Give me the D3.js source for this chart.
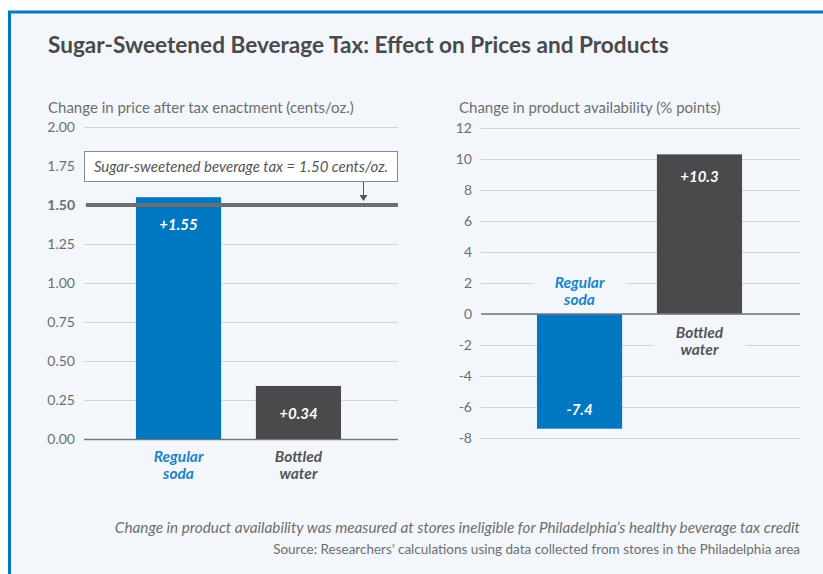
<!DOCTYPE html>
<html>
<head>
<meta charset="utf-8">
<script src="https://cdn.jsdelivr.net/npm/d3@7"></script>
<style>
  html, body { margin: 0; padding: 0; background: #fff; }
  svg { display: block; font-family: Lato, "Open Sans", sans-serif; }
</style>
</head>
<body>
<div id="chart"></div>
<script>
'use strict';

const categories = ["Regular soda", "Bottled water"];
const priceValues = [1.55, 0.34];
const priceLabels = ["+1.55", "+0.34"];
const priceTicks = [0, 0.25, 0.5, 0.75, 1.0, 1.25, 1.5, 1.75, 2.0];
const taxRate = 1.50;
const availValues = [-7.4, 10.3];
const availLabels = ["-7.4", "+10.3"];
const availTicks = [-8, -6, -4, -2, 0, 2, 4, 6, 8, 10, 12];
const barColors = ["#0077c1", "#4a4a4c"];
const labelColors = ["#1a84c7", "#555558"];

const width = 823, height = 574;
const grey = "#6d6e71";

const svg = d3.select("#chart").append("svg")
  .attr("width", width)
  .attr("height", height);

// panel
svg.append("rect").attr("x", 8).attr("y", 11).attr("width", width).attr("height", height)
  .attr("fill", "#f3f7fb");
svg.append("line").attr("x1", 8).attr("x2", width).attr("y1", 12).attr("y2", 12)
  .attr("stroke", "#0077c1").attr("stroke-width", 3);
svg.append("line").attr("x1", 9.5).attr("x2", 9.5).attr("y1", 11).attr("y2", height)
  .attr("stroke", "#0077c1").attr("stroke-width", 3);

svg.append("text")
  .attr("x", 48).attr("y", 53)
  .attr("font-size", 22.6).attr("font-weight", 700)
  .attr("fill", "#4a4a4c")
  .text("Sugar-Sweetened Beverage Tax: Effect on Prices and Products");

// two-line category label, one text per line
function catLabel(g, c, cx, y, color) {
  c.split(" ").forEach((w, k) => {
    g.append("text")
      .attr("x", cx).attr("y", y + k * 17)
      .attr("text-anchor", "middle").attr("font-size", 15.5).attr("font-weight", 700)
      .attr("font-style", "italic").attr("fill", color)
      .text(w);
  });
}

// ---- left chart
const x1 = d3.scaleBand().domain(categories).range([88, 389]).paddingInner(0.29).paddingOuter(0.4);
const y1 = d3.scaleLinear().domain([0, 2]).range([439, 127]);

const left = svg.append("g");
left.append("text").attr("x", 48).attr("y", 113).attr("font-size", 15).attr("fill", grey)
  .text("Change in price after tax enactment (cents/oz.)");

const yAxis1 = left.append("g")
  .attr("transform", "translate(84,0)")
  .call(d3.axisLeft(y1).tickValues(priceTicks).tickFormat(d3.format(".2f")).tickSize(-314).tickPadding(9));
yAxis1.select(".domain").remove();
yAxis1.selectAll(".tick line").attr("stroke", d => d === 0 ? "#77787b" : "#cfd3d8").attr("stroke-width", d => d === 0 ? 1.5 : 1);
yAxis1.selectAll(".tick text").attr("font-size", 14).attr("fill", grey).attr("font-family", "Lato, sans-serif")
  .attr("font-weight", d => d === taxRate ? 700 : 400);

// annotation box
left.append("rect").attr("x", 84.5).attr("y", 151.5).attr("width", 313).attr("height", 30)
  .attr("fill", "#fff").attr("stroke", "#8a8b8e");
left.append("text").attr("x", 241).attr("y", 172).attr("text-anchor", "middle")
  .attr("font-size", 15).attr("font-style", "italic").attr("fill", "#555558")
  .text("Sugar-sweetened beverage tax = 1.50 cents/oz.");

left.selectAll("rect.bar").data(priceValues).join("rect")
  .attr("class", "bar")
  .attr("x", (d, i) => x1(categories[i]))
  .attr("width", x1.bandwidth())
  .attr("y", d => y1(d))
  .attr("height", d => y1(0) - y1(d))
  .attr("fill", (d, i) => barColors[i]);

// tax line drawn over bars
left.append("line").attr("x1", 86).attr("x2", 398)
  .attr("y1", y1(taxRate)).attr("y2", y1(taxRate))
  .attr("stroke", grey).attr("stroke-width", 4);
left.append("line").attr("x1", 363.5).attr("x2", 363.5).attr("y1", 182).attr("y2", 196)
  .attr("stroke", "#555558").attr("stroke-width", 1);
left.append("path").attr("d", "M359.5,195 L367.5,195 L363.5,201 Z").attr("fill", "#555558");

left.selectAll("text.val").data(priceValues).join("text")
  .attr("class", "val")
  .attr("x", (d, i) => x1(categories[i]) + x1.bandwidth() / 2)
  .attr("y", d => y1(d) + 33)
  .attr("text-anchor", "middle").attr("font-size", 15).attr("font-weight", 700)
  .attr("font-style", "italic").attr("fill", "#fff")
  .text((d, i) => priceLabels[i]);

categories.forEach((c, i) => catLabel(left, c, x1(c) + x1.bandwidth() / 2, 462, labelColors[i]));

// ---- right chart
const x2 = d3.scaleBand().domain(categories).range([489, 790]).paddingInner(0.29).paddingOuter(0.4);
const y2 = d3.scaleLinear().domain([-8, 12]).range([438, 128]);

const right = svg.append("g");
right.append("text").attr("x", 459).attr("y", 113).attr("font-size", 15).attr("fill", grey)
  .text("Change in product availability (% points)");

const yAxis2 = right.append("g")
  .attr("transform", "translate(481,0)")
  .call(d3.axisLeft(y2).tickValues(availTicks).tickFormat(d3.format("d")).tickSize(-319).tickPadding(9));
yAxis2.select(".domain").remove();
yAxis2.selectAll(".tick line").attr("stroke", "#cfd3d8");
yAxis2.selectAll(".tick text").attr("font-size", 14).attr("fill", grey).attr("font-family", "Lato, sans-serif")
  .text(d => d < 0 ? "-" + Math.abs(d) : d);

// category labels with panel-colour backing so the grid stops around them
const catY = [288, 338];
categories.forEach((c, i) => {
  const cx = x2(c) + x2.bandwidth() / 2;
  right.append("rect").attr("x", cx - 46).attr("y", catY[i] - 15).attr("width", 92).attr("height", 38)
    .attr("fill", "#f3f7fb");
  catLabel(right, c, cx, catY[i], labelColors[i]);
});

right.selectAll("rect.bar").data(availValues).join("rect")
  .attr("class", "bar")
  .attr("x", (d, i) => x2(categories[i]))
  .attr("width", x2.bandwidth())
  .attr("y", d => y2(Math.max(0, d)))
  .attr("height", d => Math.abs(y2(d) - y2(0)))
  .attr("fill", (d, i) => barColors[i]);

right.append("line").attr("x1", 481).attr("x2", 800).attr("y1", y2(0)).attr("y2", y2(0))
  .attr("stroke", "#77787b").attr("stroke-width", 1.5);

right.selectAll("text.val").data(availValues).join("text")
  .attr("class", "val")
  .attr("x", (d, i) => x2(categories[i]) + x2.bandwidth() / 2)
  .attr("y", d => d > 0 ? y2(d) + 28 : y2(d) - 14)
  .attr("text-anchor", "middle").attr("font-size", 15).attr("font-weight", 700)
  .attr("font-style", "italic").attr("fill", "#fff")
  .text((d, i) => availLabels[i]);

// notes
svg.append("text").attr("x", 800).attr("y", 533).attr("text-anchor", "end")
  .attr("font-size", 15.3).attr("font-style", "italic").attr("fill", grey)
  .text("Change in product availability was measured at stores ineligible for Philadelphia\u2019s healthy beverage tax credit");
svg.append("text").attr("x", 800).attr("y", 554).attr("text-anchor", "end")
  .attr("font-size", 13.5).attr("fill", grey)
  .text("Source: Researchers\u2019 calculations using data collected from stores in the Philadelphia area");
</script>
</body>
</html>
